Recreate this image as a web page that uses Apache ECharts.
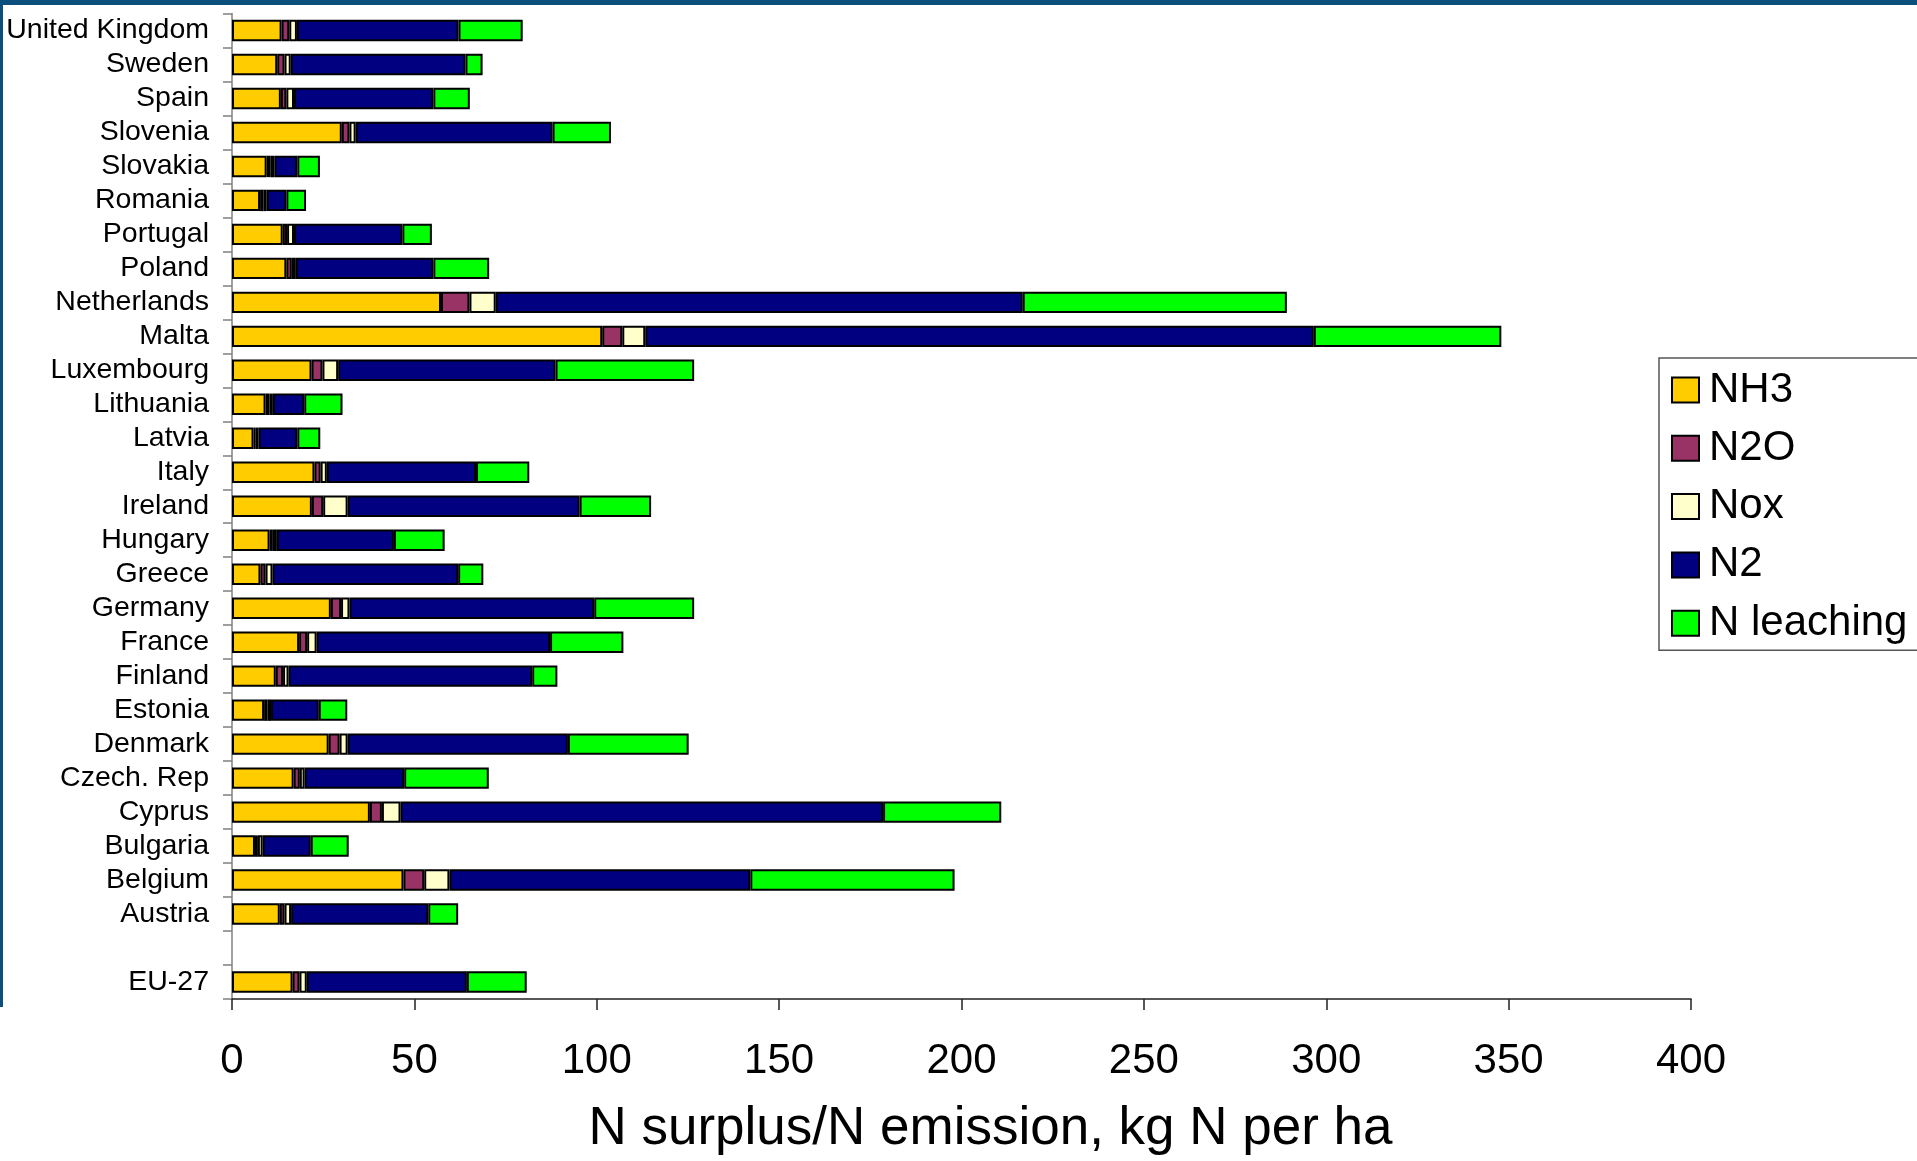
<!DOCTYPE html>
<html>
<head>
<meta charset="utf-8">
<title>N surplus / N emission by country</title>
<script src="https://cdn.jsdelivr.net/npm/echarts@6/dist/echarts.min.js"></script>
<style>
  html, body { margin: 0; padding: 0; background: #ffffff; }
  #chart { width: 1917px; height: 1161px; }
</style>
</head>
<body>
<div id="chart"></div>
<script>
// Countries, listed from the bottom of the chart upward (EU-27 average, a spacer, then A..Z)
const countries = [
  'EU-27', '', 'Austria', 'Belgium', 'Bulgaria', 'Cyprus', 'Czech. Rep', 'Denmark',
  'Estonia', 'Finland', 'France', 'Germany', 'Greece', 'Hungary', 'Ireland', 'Italy',
  'Latvia', 'Lithuania', 'Luxembourg', 'Malta', 'Netherlands', 'Poland', 'Portugal',
  'Romania', 'Slovakia', 'Slovenia', 'Spain', 'Sweden', 'United Kingdom'
];

// kg N per ha, same order as countries
const nh3 = [16.6, null, 13.1, 47.0, 6.3, 37.8, 16.9, 26.5, 8.8, 12.0, 18.4, 27.1, 7.8, 10.3, 21.9, 22.6,
  5.9, 9.2, 21.8, 101.5, 57.3, 14.9, 13.9, 7.7, 9.5, 30.1, 13.4, 12.4, 13.6];
const n2o = [1.9, null, 1.3, 5.7, 0.8, 3.3, 1.7, 3.0, 0.9, 2.0, 2.2, 2.8, 1.4, 0.9, 3.1, 1.7,
  0.6, 1.1, 3.0, 5.5, 7.8, 1.5, 1.2, 0.9, 1.0, 2.1, 1.5, 2.0, 2.1];
const nox = [2.0, null, 1.8, 6.9, 1.3, 5.1, 1.3, 2.2, 1.0, 1.5, 2.6, 2.3, 1.9, 1.1, 6.7, 1.7,
  0.8, 0.9, 4.3, 6.3, 7.2, 1.1, 1.9, 0.9, 1.1, 1.7, 2.1, 1.7, 2.1];
const n2 = [43.9, null, 37.6, 82.5, 13.2, 132.3, 27.3, 60.4, 13.1, 66.8, 64.0, 67.1, 50.9, 32.1, 63.6, 40.9,
  10.6, 8.6, 59.6, 183.3, 144.5, 37.7, 29.7, 5.4, 6.3, 54.0, 38.2, 47.9, 44.3];
const nLeaching = [16.4, null, 8.2, 56.0, 10.4, 32.4, 23.2, 33.1, 7.8, 6.9, 20.1, 27.4, 6.9, 13.9, 19.6, 14.6,
  6.3, 10.5, 38.0, 51.4, 72.4, 15.3, 8.1, 5.4, 6.2, 16.0, 10.0, 4.7, 17.6];

const xTicks = [0, 50, 100, 150, 200, 250, 300, 350, 400];

const seriesNames = ['NH3', 'N2O', 'Nox', 'N2', 'N leaching'];
const seriesColors = ['#FFCC00', '#993366', '#FFFFCC', '#000080', '#00FF00'];
const seriesValues = [nh3, n2o, nox, n2, nLeaching];

const FONT = "'Liberation Sans', Arial, Helvetica, sans-serif";

const chart = echarts.init(document.getElementById('chart'), null, { renderer: 'canvas' });

chart.setOption({
  animation: false,
  backgroundColor: '#ffffff',
  textStyle: { fontFamily: FONT, color: '#000' },
  grid: { left: 232, right: 226, top: 13.5, bottom: 156, containLabel: false },
  xAxis: {
    type: 'value',
    min: xTicks[0],
    max: xTicks[xTicks.length - 1],
    interval: xTicks[1] - xTicks[0],
    name: 'N surplus/N emission, kg N per ha',
    nameLocation: 'middle',
    nameGap: 104,
    nameTextStyle: { fontFamily: FONT, fontSize: 53, color: '#000', padding: [0, 0, 0, 58] },
    axisLine: { show: true, lineStyle: { color: '#222', width: 1.5 } },
    axisTick: { show: true, length: 11, lineStyle: { color: '#222', width: 1.5 } },
    axisLabel: { fontFamily: FONT, fontSize: 42, color: '#000', margin: 41 },
    splitLine: { show: false }
  },
  yAxis: {
    type: 'category',
    data: countries,
    axisLine: { show: true, lineStyle: { color: '#808080', width: 1.5 } },
    axisTick: { show: true, length: 9, alignWithLabel: false, lineStyle: { color: '#808080', width: 1.5 } },
    axisLabel: { fontFamily: FONT, fontSize: 28.5, color: '#000', margin: 23, interval: 0 },
    splitLine: { show: false }
  },
  legend: {
    orient: 'vertical',
    left: 1659,
    top: 358,
    padding: [8, 40, 3, 12],
    itemGap: 10.3,
    itemWidth: 27,
    itemHeight: 25,
    borderColor: '#555',
    borderWidth: 1.5,
    icon: 'rect',
    itemStyle: { borderColor: '#000', borderWidth: 2 },
    textStyle: { fontFamily: FONT, fontSize: 42, color: '#000', lineHeight: 48, padding: [0, 0, 0, 5] },
    data: seriesNames
  },
  graphic: [
    { type: 'rect', left: 0, top: 0, shape: { width: 1917, height: 5 }, style: { fill: '#0B4F7C' }, silent: true },
    { type: 'rect', left: 0, top: 0, shape: { width: 3, height: 1007 }, style: { fill: '#0B4F7C' }, silent: true }
  ],
  series: seriesNames.map((name, i) => ({
    name: name,
    type: 'bar',
    stack: 'total',
    barCategoryGap: '37%',
    data: seriesValues[i],
    itemStyle: { color: seriesColors[i], borderColor: '#000', borderWidth: 2 },
    emphasis: { disabled: true }
  }))
});
</script>
</body>
</html>
